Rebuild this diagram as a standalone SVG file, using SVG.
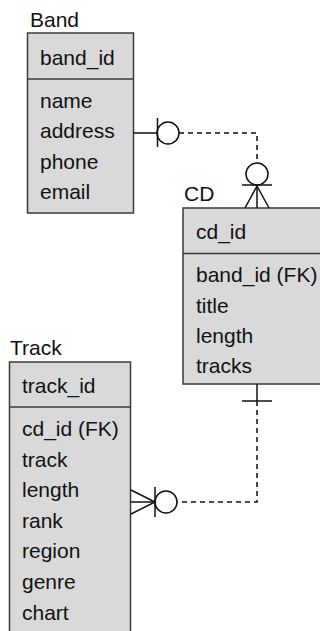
<svg xmlns="http://www.w3.org/2000/svg" width="320" height="631" viewBox="0 0 320 631">
<style>
.box{fill:#d9d9d9;stroke:#3a3a3a;stroke-width:1.5}
.div{stroke:#3a3a3a;stroke-width:1.5}
text{font-family:"Liberation Sans",Arial,sans-serif;font-size:21px;fill:#111}
.ln{fill:none;stroke:#111;stroke-width:1.5}
.dash{fill:none;stroke:#111;stroke-width:1.5;stroke-dasharray:5 4}
</style>
<rect width="320" height="631" fill="#fff"/>
<g id="band">
<text x="30" y="27">Band</text>
<rect class="box" x="27.5" y="33" width="106" height="180"/>
<line class="div" x1="27.5" y1="79" x2="133.5" y2="79"/>
<text x="40" y="65">band_id</text>
<text x="40" y="107.5">name</text>
<text x="40" y="138">address</text>
<text x="40" y="168.5">phone</text>
<text x="40" y="199">email</text>
</g>
<g id="cd">
<text x="184" y="200.5">CD</text>
<rect class="box" x="183" y="208" width="145" height="176"/>
<line class="div" x1="183" y1="253.5" x2="328" y2="253.5"/>
<text x="196" y="239">cd_id</text>
<text x="196" y="282">band_id (FK)</text>
<text x="196" y="312.5">title</text>
<text x="196" y="343">length</text>
<text x="196" y="373">tracks</text>
</g>
<g id="track">
<text x="10" y="355">Track</text>
<rect class="box" x="9.5" y="362" width="121" height="280"/>
<line class="div" x1="9.5" y1="407" x2="130.5" y2="407"/>
<text x="22" y="393">track_id</text>
<text x="22" y="436">cd_id (FK)</text>
<text x="22" y="466.5">track</text>
<text x="22" y="497">length</text>
<text x="22" y="527.5">rank</text>
<text x="22" y="558">region</text>
<text x="22" y="589">genre</text>
<text x="22" y="620">chart</text>
</g>
<g id="connectors">
<g id="band-cd">
<line class="ln" x1="133.5" y1="133" x2="157" y2="133"/>
<line class="ln" x1="157.5" y1="118" x2="157.5" y2="147"/>
<circle class="ln" cx="168" cy="133" r="11"/>
<polyline class="dash" points="179,133 257,133 257,163"/>
<circle class="ln" cx="257" cy="174" r="11"/>
<line class="ln" x1="242" y1="185" x2="272" y2="185"/>
<line class="ln" x1="257" y1="185" x2="257" y2="208"/>
<polyline class="ln" points="245,208 257,186 269,208"/>
</g>
<g id="cd-track">
<line class="ln" x1="257" y1="384" x2="257" y2="401"/>
<line class="ln" x1="242" y1="401" x2="272" y2="401"/>
<polyline class="dash" points="257,401 257,502 177,502"/>
<circle class="ln" cx="166" cy="502" r="11"/>
<line class="ln" x1="155" y1="487" x2="155" y2="517"/>
<line class="ln" x1="155" y1="502" x2="131" y2="502"/>
<polyline class="ln" points="131,490 155,502 131,514"/>
</g>
</g>
</svg>
